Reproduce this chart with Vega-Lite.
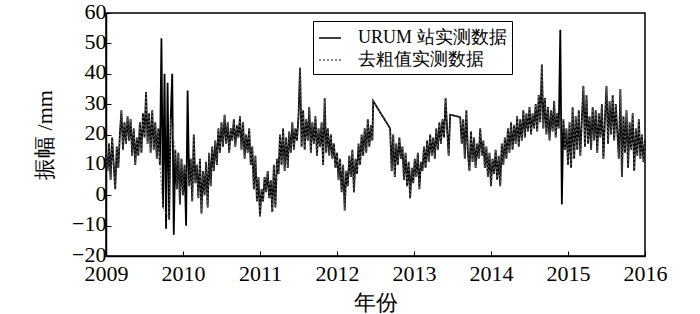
{
  "$schema": "https://vega.github.io/schema/vega-lite/v6.json",
  "width": 539,
  "height": 243,
  "autosize": "none",
  "padding": {"left": 106, "top": 13, "right": 55, "bottom": 58},
  "background": "white",
  "config": {
    "font": "Liberation Serif",
    "view": {"stroke": "black", "strokeWidth": 1.5},
    "axis": {
      "grid": false,
      "domainColor": "black",
      "domainWidth": 1.5,
      "tickColor": "black",
      "tickWidth": 1,
      "tickSize": -5,
      "labelColor": "black",
      "labelFont": "Liberation Serif",
      "labelFontSize": 22,
      "titleColor": "black",
      "titleFont": "Liberation Serif",
      "titleFontSize": 22,
      "titleFontWeight": "normal"
    },
    "legend": {
      "orient": "none",
      "legendX": 207,
      "legendY": 8,
      "title": null,
      "strokeColor": "black",
      "padding": 5,
      "symbolType": "stroke",
      "symbolSize": 484,
      "symbolStrokeWidth": 1.5,
      "labelFont": "Liberation Serif",
      "labelFontSize": 18,
      "labelColor": "black",
      "labelOffset": 16,
      "rowPadding": 1,
      "fillColor": "white"
    }
  },
  "data": {"values": [
    {"t":2009.00,"v":14},{"t":2009.02,"v":8},{"t":2009.04,"v":17},{"t":2009.06,"v":5},{"t":2009.08,"v":19},{"t":2009.10,"v":10},{"t":2009.12,"v":2},{"t":2009.14,"v":16},{"t":2009.16,"v":9},{"t":2009.18,"v":20},
    {"t":2009.20,"v":28},{"t":2009.22,"v":15},{"t":2009.24,"v":24},{"t":2009.26,"v":17},{"t":2009.28,"v":26},{"t":2009.30,"v":18},{"t":2009.32,"v":25},{"t":2009.34,"v":13},{"t":2009.36,"v":22},{"t":2009.38,"v":10},
    {"t":2009.40,"v":19},{"t":2009.42,"v":13},{"t":2009.44,"v":24},{"t":2009.46,"v":14},{"t":2009.48,"v":27},{"t":2009.50,"v":19},{"t":2009.52,"v":34},{"t":2009.54,"v":17},{"t":2009.56,"v":27},{"t":2009.58,"v":14},
    {"t":2009.60,"v":28},{"t":2009.62,"v":15},{"t":2009.64,"v":24},{"t":2009.66,"v":12},{"t":2009.68,"v":22},{"t":2009.70,"v":10},{"t":2009.72,"v":51.7,"o":1},{"t":2009.74,"v":-4},{"t":2009.76,"v":40,"o":1},{"t":2009.78,"v":-11,"o":1},
    {"t":2009.80,"v":37,"o":1},{"t":2009.82,"v":-8},{"t":2009.84,"v":25},{"t":2009.86,"v":40,"o":1},{"t":2009.88,"v":-13,"o":1},{"t":2009.90,"v":15},{"t":2009.92,"v":2},{"t":2009.94,"v":14},{"t":2009.96,"v":-3},{"t":2009.98,"v":12},
    {"t":2010.00,"v":0},{"t":2010.02,"v":10},{"t":2010.04,"v":-10,"o":1},{"t":2010.06,"v":34.5,"o":1},{"t":2010.08,"v":3},{"t":2010.10,"v":12},{"t":2010.12,"v":-2},{"t":2010.14,"v":20},{"t":2010.16,"v":4},{"t":2010.18,"v":10},
    {"t":2010.20,"v":-1},{"t":2010.22,"v":12},{"t":2010.24,"v":-6},{"t":2010.26,"v":8},{"t":2010.28,"v":0},{"t":2010.30,"v":11},{"t":2010.32,"v":-4},{"t":2010.34,"v":14},{"t":2010.36,"v":3},{"t":2010.38,"v":16},
    {"t":2010.40,"v":8},{"t":2010.42,"v":18},{"t":2010.44,"v":10},{"t":2010.46,"v":22},{"t":2010.48,"v":14},{"t":2010.50,"v":24},{"t":2010.52,"v":16},{"t":2010.54,"v":26.5},{"t":2010.56,"v":17},{"t":2010.58,"v":24},
    {"t":2010.60,"v":14},{"t":2010.62,"v":22},{"t":2010.64,"v":18},{"t":2010.66,"v":25},{"t":2010.68,"v":16},{"t":2010.70,"v":23},{"t":2010.72,"v":19},{"t":2010.74,"v":26},{"t":2010.76,"v":15},{"t":2010.78,"v":24},
    {"t":2010.80,"v":12},{"t":2010.82,"v":20},{"t":2010.84,"v":14},{"t":2010.86,"v":22},{"t":2010.88,"v":10},{"t":2010.90,"v":16},{"t":2010.92,"v":2},{"t":2010.94,"v":13},{"t":2010.96,"v":-2},{"t":2010.98,"v":6},
    {"t":2011.00,"v":-7},{"t":2011.02,"v":2},{"t":2011.04,"v":-2},{"t":2011.06,"v":6},{"t":2011.08,"v":1},{"t":2011.10,"v":8},{"t":2011.12,"v":-1},{"t":2011.14,"v":5},{"t":2011.16,"v":-5.5},{"t":2011.18,"v":10},
    {"t":2011.20,"v":-4},{"t":2011.22,"v":12},{"t":2011.24,"v":7},{"t":2011.26,"v":20},{"t":2011.28,"v":10},{"t":2011.30,"v":22},{"t":2011.32,"v":8},{"t":2011.34,"v":19},{"t":2011.36,"v":9},{"t":2011.38,"v":21},
    {"t":2011.40,"v":14},{"t":2011.42,"v":24},{"t":2011.44,"v":15},{"t":2011.46,"v":22},{"t":2011.48,"v":18},{"t":2011.50,"v":26},{"t":2011.52,"v":42},{"t":2011.54,"v":16},{"t":2011.56,"v":28},{"t":2011.58,"v":15},
    {"t":2011.60,"v":25},{"t":2011.62,"v":18},{"t":2011.64,"v":29},{"t":2011.66,"v":14},{"t":2011.68,"v":24},{"t":2011.70,"v":17},{"t":2011.72,"v":26},{"t":2011.74,"v":13},{"t":2011.76,"v":22},{"t":2011.78,"v":16},
    {"t":2011.80,"v":24},{"t":2011.82,"v":10},{"t":2011.84,"v":32},{"t":2011.86,"v":14},{"t":2011.88,"v":22},{"t":2011.90,"v":13},{"t":2011.92,"v":20},{"t":2011.94,"v":12},{"t":2011.96,"v":17},{"t":2011.98,"v":9},
    {"t":2012.00,"v":14},{"t":2012.02,"v":5},{"t":2012.04,"v":12},{"t":2012.06,"v":1},{"t":2012.08,"v":10},{"t":2012.10,"v":-5},{"t":2012.12,"v":8},{"t":2012.14,"v":3},{"t":2012.16,"v":13},{"t":2012.18,"v":6},
    {"t":2012.20,"v":15},{"t":2012.22,"v":1},{"t":2012.24,"v":12},{"t":2012.26,"v":7},{"t":2012.28,"v":17},{"t":2012.30,"v":10},{"t":2012.32,"v":20},{"t":2012.34,"v":13},{"t":2012.36,"v":22},{"t":2012.38,"v":14},
    {"t":2012.40,"v":25},{"t":2012.42,"v":16},{"t":2012.44,"v":23},{"t":2012.46,"v":18},{"t":2012.47,"v":31},
    {"t":2012.69,"v":22},{"t":2012.71,"v":8},{"t":2012.73,"v":20},{"t":2012.75,"v":6},{"t":2012.77,"v":17},{"t":2012.79,"v":10},{"t":2012.81,"v":19},{"t":2012.83,"v":12},{"t":2012.85,"v":16},{"t":2012.87,"v":5},
    {"t":2012.89,"v":14},{"t":2012.91,"v":3},{"t":2012.93,"v":11},{"t":2012.95,"v":-1},{"t":2012.97,"v":9},{"t":2012.99,"v":4},
    {"t":2013.01,"v":12},{"t":2013.03,"v":6},{"t":2013.05,"v":14},{"t":2013.07,"v":2},{"t":2013.09,"v":11},{"t":2013.11,"v":8},{"t":2013.13,"v":16},{"t":2013.15,"v":9},{"t":2013.17,"v":18},{"t":2013.19,"v":11},
    {"t":2013.21,"v":20},{"t":2013.23,"v":13},{"t":2013.25,"v":19},{"t":2013.27,"v":12},{"t":2013.29,"v":22},{"t":2013.31,"v":15},{"t":2013.33,"v":24},{"t":2013.35,"v":17},{"t":2013.37,"v":25},{"t":2013.39,"v":19},
    {"t":2013.41,"v":32},{"t":2013.43,"v":22},{"t":2013.45,"v":13},{"t":2013.47,"v":26.5},
    {"t":2013.60,"v":25.7},{"t":2013.62,"v":17},{"t":2013.64,"v":25},{"t":2013.66,"v":12},{"t":2013.68,"v":28},{"t":2013.70,"v":14},{"t":2013.72,"v":8},{"t":2013.74,"v":21},{"t":2013.76,"v":11},{"t":2013.78,"v":19},
    {"t":2013.80,"v":9},{"t":2013.82,"v":17},{"t":2013.84,"v":12},{"t":2013.86,"v":22},{"t":2013.88,"v":13},{"t":2013.90,"v":18},{"t":2013.92,"v":9},{"t":2013.94,"v":16},{"t":2013.96,"v":6},{"t":2013.98,"v":14},
    {"t":2014.00,"v":3},{"t":2014.02,"v":12},{"t":2014.04,"v":7},{"t":2014.06,"v":15},{"t":2014.08,"v":5},{"t":2014.10,"v":13},{"t":2014.12,"v":3},{"t":2014.14,"v":17},{"t":2014.16,"v":10},{"t":2014.18,"v":19},
    {"t":2014.20,"v":12},{"t":2014.22,"v":22},{"t":2014.24,"v":14},{"t":2014.26,"v":24},{"t":2014.28,"v":15},{"t":2014.30,"v":23},{"t":2014.32,"v":17},{"t":2014.34,"v":26},{"t":2014.36,"v":16},{"t":2014.38,"v":25},
    {"t":2014.40,"v":18},{"t":2014.42,"v":28},{"t":2014.44,"v":19},{"t":2014.46,"v":27},{"t":2014.48,"v":21},{"t":2014.50,"v":29},{"t":2014.52,"v":20},{"t":2014.54,"v":27},{"t":2014.56,"v":22},{"t":2014.58,"v":30},
    {"t":2014.60,"v":21},{"t":2014.62,"v":33},{"t":2014.64,"v":24},{"t":2014.66,"v":43},{"t":2014.68,"v":22},{"t":2014.70,"v":32},{"t":2014.72,"v":20},{"t":2014.74,"v":29},{"t":2014.76,"v":18},{"t":2014.78,"v":28},
    {"t":2014.80,"v":21},{"t":2014.82,"v":31},{"t":2014.84,"v":19},{"t":2014.86,"v":27},{"t":2014.88,"v":22},{"t":2014.90,"v":54.5,"o":1},{"t":2014.92,"v":-3,"o":1},{"t":2014.94,"v":25},{"t":2014.96,"v":15},{"t":2014.98,"v":22},
    {"t":2015.00,"v":10},{"t":2015.02,"v":24},{"t":2015.04,"v":9},{"t":2015.06,"v":29},{"t":2015.08,"v":12},{"t":2015.10,"v":26},{"t":2015.12,"v":15},{"t":2015.14,"v":28},{"t":2015.16,"v":13},{"t":2015.18,"v":25},
    {"t":2015.20,"v":36},{"t":2015.22,"v":16},{"t":2015.24,"v":33},{"t":2015.26,"v":17},{"t":2015.28,"v":26},{"t":2015.30,"v":15},{"t":2015.32,"v":29},{"t":2015.34,"v":18},{"t":2015.36,"v":28},{"t":2015.38,"v":14},
    {"t":2015.40,"v":27},{"t":2015.42,"v":19},{"t":2015.44,"v":30},{"t":2015.46,"v":12},{"t":2015.48,"v":25},{"t":2015.50,"v":36},{"t":2015.52,"v":17},{"t":2015.54,"v":31},{"t":2015.56,"v":20},{"t":2015.58,"v":33},
    {"t":2015.60,"v":18},{"t":2015.62,"v":30},{"t":2015.64,"v":21},{"t":2015.66,"v":12},{"t":2015.68,"v":35},{"t":2015.70,"v":6},{"t":2015.72,"v":26},{"t":2015.74,"v":14},{"t":2015.76,"v":28},{"t":2015.78,"v":9},
    {"t":2015.80,"v":24},{"t":2015.82,"v":15},{"t":2015.84,"v":27},{"t":2015.86,"v":8},{"t":2015.88,"v":22},{"t":2015.90,"v":13},{"t":2015.92,"v":25},{"t":2015.94,"v":12},{"t":2015.96,"v":20},{"t":2015.98,"v":11},
    {"t":2016.00,"v":18}
  ]},
  "encoding": {
    "x": {
      "field": "t", "type": "quantitative",
      "scale": {"domain": [2009, 2016], "nice": false, "zero": false},
      "axis": {"values": [2009, 2010, 2011, 2012, 2013, 2014, 2015, 2016], "format": "d", "title": "年份", "labelFont": "Liberation Serif", "titleFont": "Liberation Serif", "labelPadding": 12, "titlePadding": 8, "labelFlush": false}
    },
    "y": {
      "field": "v", "type": "quantitative",
      "scale": {"domain": [-20, 60], "nice": false, "zero": false},
      "axis": {"values": [-20, -10, 0, 10, 20, 30, 40, 50, 60], "format": "d", "title": "振幅 /mm", "labelFont": "Liberation Serif", "titleFont": "Liberation Serif", "labelPadding": 5, "labelOffset": -2, "titlePadding": 15, "labelFlush": false}
    }
  },
  "layer": [
    {
      "mark": {"type": "line", "strokeWidth": 1.8, "interpolate": "linear"},
      "encoding": {
        "color": {"datum": "URUM 站实测数据", "type": "nominal", "scale": {"domain": ["URUM 站实测数据", "去粗值实测数据"], "range": ["#000000", "#666666"]}},
        "strokeDash": {"datum": "URUM 站实测数据", "type": "nominal", "scale": {"domain": ["URUM 站实测数据", "去粗值实测数据"], "range": [[1, 0], [2, 2]]}}
      }
    },
    {
      "transform": [{"filter": "!datum.o"}],
      "mark": {"type": "line", "strokeWidth": 1, "interpolate": "linear"},
      "encoding": {
        "color": {"datum": "去粗值实测数据", "type": "nominal"},
        "strokeDash": {"datum": "去粗值实测数据", "type": "nominal"}
      }
    }
  ]
}
